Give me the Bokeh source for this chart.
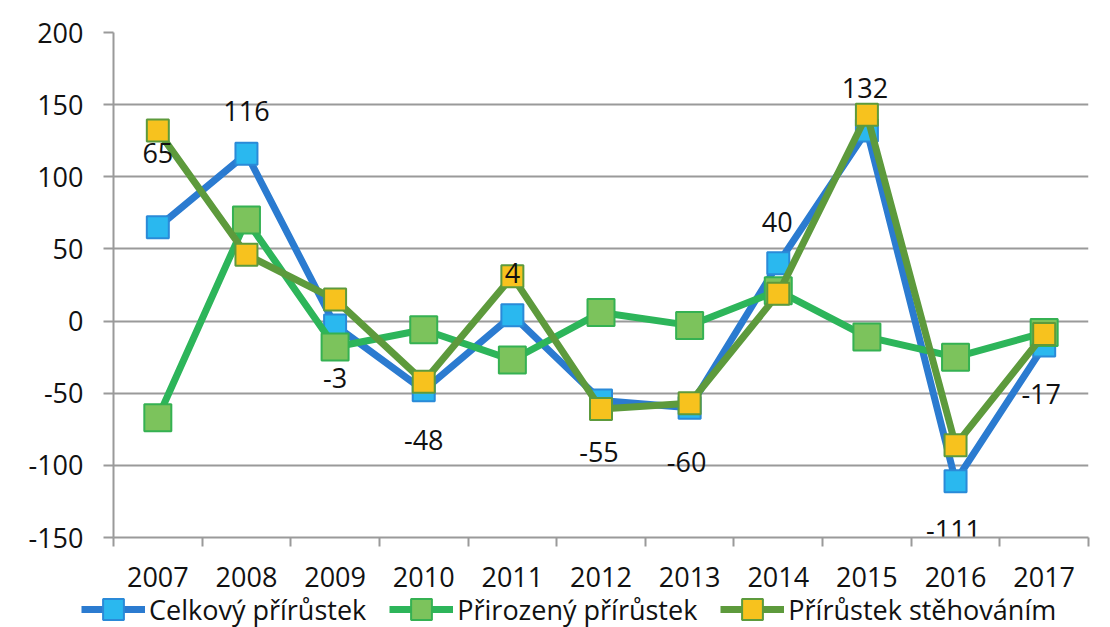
from bokeh.plotting import figure
from bokeh.models import (ColumnDataSource, Range1d, FixedTicker, Legend, LegendItem)
from bokeh.layouts import column
from bokeh.core.properties import value
from bokeh.embed import file_html
from bokeh.resources import INLINE

years = ["2007", "2008", "2009", "2010", "2011", "2012", "2013", "2014", "2015", "2016", "2017"]
celkovy = [65, 116, -3, -48, 4, -55, -60, 40, 132, -111, -17]
prirozeny = [-67, 70, -18, -6, -27, 6, -3, 21, -11, -25, -8]
stehovanim = [132, 46, 15, -42, 31, -61, -57, 19, 143, -86, -9]
y_ticks = [-150, -100, -50, 0, 50, 100, 150, 200]
series_names = ["Celkový přírůstek", "Přirozený přírůstek", "Přírůstek stěhováním"]

# label placement (screen-pixel offsets from each point)
label_dx = [0, 0, 0, 0, 0, -2, -3, -1, -2, -2, -3]
label_dy = [-74, -43, 53, 50, -42, 52, 54, -41, -43, 49, 48]

FONT = "Open Sans"
FS = "27px"
W = 1110
LEFT, RIGHT = 113, 22
TOP_H = 556
idx = list(range(len(years)))
n = len(years)

p = figure(width=W, height=TOP_H, output_backend="svg", toolbar_location=None,
           x_range=Range1d(-0.5, n - 0.5), y_range=Range1d(-150, 200),
           min_border_left=LEFT, min_border_right=RIGHT, min_border_top=32, min_border_bottom=19)
p.outline_line_color = None
p.background_fill_color = "white"
p.border_fill_color = "white"

GRID = "#9a9a9a"
# x axis of the plot: only the category separator ticks
p.xaxis.ticker = FixedTicker(ticks=idx, minor_ticks=[i - 0.5 for i in range(n + 1)])
p.xaxis.major_label_overrides = {i: "" for i in idx}
p.xaxis.major_label_text_font_size = "0px"
p.xaxis.major_label_standoff = 0
p.xaxis.major_tick_line_color = None
p.xaxis.minor_tick_out = 9
p.xaxis.minor_tick_in = 0
p.xaxis.minor_tick_line_color = GRID
p.xaxis.minor_tick_line_width = 2
p.xaxis.axis_line_color = GRID
p.xaxis.axis_line_width = 2
p.xgrid.grid_line_color = None

# y axis
p.yaxis.ticker = FixedTicker(ticks=y_ticks)
p.yaxis.major_label_overrides = {v: str(v) for v in y_ticks}
p.yaxis.major_tick_out = 10
p.yaxis.major_tick_in = 0
p.yaxis.major_tick_line_color = GRID
p.yaxis.major_tick_line_width = 2
p.yaxis.minor_tick_line_color = None
p.yaxis.axis_line_color = GRID
p.yaxis.axis_line_width = 2
p.yaxis.major_label_text_font = FONT
p.yaxis.major_label_text_font_size = FS
p.yaxis.major_label_text_color = "#111111"
p.yaxis.major_label_standoff = 20
p.ygrid.grid_line_color = GRID
p.ygrid.grid_line_width = 2

# series styles
STY = [
    dict(line_color="#2b7bd0", size=22, fill_color="#2ab8ef", mline="#2a8ad8"),
    dict(line_color="#2db55a", size=27, fill_color="#7cc35c", mline="#35b152"),
    dict(line_color="#5d9a3c", size=22, fill_color="#f7c21e", mline="#5d9a3c"),
]
src = ColumnDataSource(dict(x=idx, c=celkovy, n=prirozeny, m=stehovanim))
cols = ["c", "n", "m"]

def draw(fig):
    out = []
    for col, st in zip(cols, STY):
        ln = fig.line("x", col, source=src, line_color=st["line_color"], line_width=7)
        sc = fig.scatter("x", col, source=src, marker="square", size=st["size"],
                         fill_color=st["fill_color"], line_color=st["mline"], line_width=2)
        out.append((ln, sc))
    return out

draw(p)

# data labels
lab = ColumnDataSource(dict(x=idx, y=celkovy, t=[str(v) for v in celkovy],
                            dx=label_dx, dy=label_dy))
p.text("x", "y", text="t", source=lab, x_offset="dx", y_offset="dy",
       text_align="center", text_baseline="middle",
       text_font=value(FONT), text_font_size=FS, text_color="#111111")

# bottom strip: category labels (axis above its frame) + legend
unit = (W - LEFT - RIGHT) / n
lf = figure(width=W, height=627 - TOP_H, output_backend="svg", toolbar_location=None,
            x_range=Range1d(-0.5 - LEFT / unit, n - 0.5 + RIGHT / unit),
            y_range=Range1d(1000, 1001),
            x_axis_location="above", y_axis_location=None,
            min_border_left=0, min_border_right=0, min_border_top=36, min_border_bottom=0)
lf.frame_align = False
lf.grid.visible = False
lf.outline_line_color = None
lf.background_fill_color = "white"
lf.border_fill_color = "white"
ax = lf.xaxis[0]
ax.ticker = FixedTicker(ticks=idx)
ax.major_label_overrides = {i: y for i, y in enumerate(years)}
ax.major_tick_line_color = None
ax.minor_tick_line_color = None
ax.axis_line_color = None
ax.major_label_standoff = 0
ax.major_label_text_font = FONT
ax.major_label_text_font_size = FS
ax.major_label_text_color = "#111111"

rs = draw(lf)
legend = Legend(items=[LegendItem(label=series_names[i], renderers=list(rs[i])) for i in range(3)],
                orientation="horizontal", location=(81, -8),
                glyph_width=64, glyph_height=52, label_standoff=4, spacing=23,
                padding=0, margin=0, border_line_alpha=0, background_fill_alpha=0,
                label_text_font=FONT, label_text_font_size=FS,
                label_text_color="#111111")
lf.add_layout(legend, "center")

layout = column(p, lf, spacing=0)
open("out.html", "w").write(file_html(layout, INLINE))
